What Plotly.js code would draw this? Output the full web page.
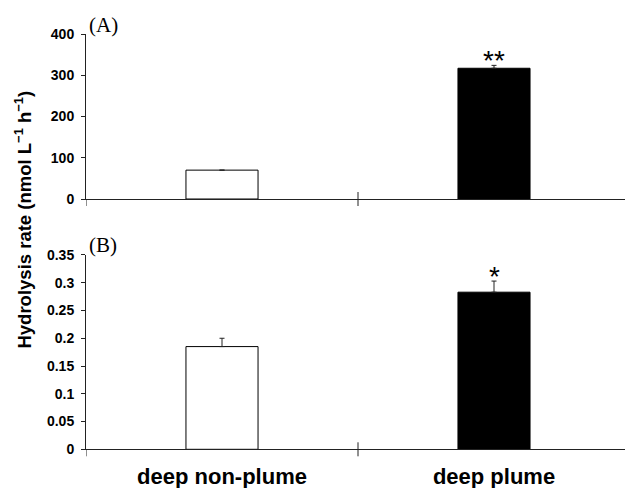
<!DOCTYPE html>
<html><head><meta charset="utf-8">
<script src="https://cdn.plot.ly/plotly-3.0.1.min.js"></script>
<style>html,body{margin:0;padding:0;background:#fff}#c{width:625px;height:488px}</style>
</head><body><div id="c"></div>
<script>
const categories = ['deep non-plume', 'deep plume'];
const rateA = [70, 317];
const errA = [0, 7];
const rateB = [0.185, 0.283];
const errB = [0.015, 0.02];
const sigA = ['', '**'];
const sigB = ['', '*'];
const panelLabels = ['(A)', '(B)'];

const AR = 'Arial, "Liberation Sans", sans-serif';
const TR = '"Times New Roman", "Liberation Serif", serif';
const fills = ['#ffffff', '#000000'];
const barW = 0.265;
const domA = [0.5922, 0.9303];
const domB = [0.0793, 0.4775];

function barTrace(vals, errs, xa, ya) {
  return {
    type: 'bar', x: categories, y: vals, xaxis: xa, yaxis: ya,
    width: categories.map(() => barW),
    marker: {color: fills, line: {color: '#000', width: 1}},
    error_y: {type: 'data', symmetric: false, array: errs, arrayminus: errs.map(() => 0),
              color: '#222', thickness: 1, width: 2.5},
    hoverinfo: 'skip', showlegend: false
  };
}

const xr = [-0.5, 1.4816];
const axLine = {showline: true, linecolor: '#222', linewidth: 1, zeroline: false, showgrid: false};
const yTick = {ticks: 'outside', ticklen: 4, tickcolor: '#222', tickwidth: 1,
  tickfont: {family: AR, size: 14, color: '#000', weight: 'bold'}, ticklabelstandoff: 4};

const annotations = [];
sigA.forEach((s, i) => { if (s) annotations.push({xref: 'x', yref: 'y', x: categories[i], y: rateA[i] + errA[i],
  text: s, showarrow: false, yanchor: 'bottom', yshift: -13, font: {family: AR, size: 28, color: '#000'}}); });
sigB.forEach((s, i) => { if (s) annotations.push({xref: 'x2', yref: 'y2', x: categories[i], y: rateB[i] + errB[i],
  text: s, showarrow: false, yanchor: 'bottom', yshift: -13, font: {family: AR, size: 28, color: '#000'}}); });
annotations.push({xref: 'paper', yref: 'paper', x: 0.002, y: 0.978, xanchor: 'left', yanchor: 'top',
  text: panelLabels[0], showarrow: false, font: {family: TR, size: 21, color: '#000'}});
annotations.push({xref: 'paper', yref: 'paper', x: 0.002, y: 0.527, xanchor: 'left', yanchor: 'top',
  text: panelLabels[1], showarrow: false, font: {family: TR, size: 21, color: '#000'}});
annotations.push({xref: 'paper', yref: 'paper', x: -0.117, y: 0.55, xanchor: 'center', yanchor: 'middle',
  textangle: -90, showarrow: false,
  text: '<b>Hydrolysis rate (nmol L<sup>−1</sup> h<sup>−1</sup>)</b>',
  font: {family: AR, size: 18.5, color: '#000'}});

// category boundary ticks crossing the category axis
const shapes = [];
[['x', domA], ['x2', domB]].forEach(([xa, dom]) => {
  for (let i = 0; i <= categories.length; i++) {
    const bx = i - 0.5;
    shapes.push({type: 'line', xref: xa, yref: 'paper', ysizemode: 'pixel', yanchor: dom[0],
      x0: bx, x1: bx, y0: -7, y1: i === 0 ? 0 : 7,
      line: {color: '#222', width: 1}});
  }
});

const layout = {
  width: 625, height: 488,
  margin: {l: 86, r: 0, t: 0, b: 0, pad: 0},
  paper_bgcolor: '#fff', plot_bgcolor: '#fff',
  xaxis: Object.assign({}, axLine, {anchor: 'y', range: xr, type: 'category', showticklabels: false, ticks: ''}),
  yaxis: Object.assign({}, axLine, yTick, {domain: domA, range: [0, 400], dtick: 100, tick0: 0}),
  xaxis2: Object.assign({}, axLine, {anchor: 'y2', range: xr, type: 'category', ticks: '',
    tickfont: {family: AR, size: 22, color: '#000', weight: 'bold'}, ticklabelstandoff: 7}),
  yaxis2: Object.assign({}, axLine, yTick, {domain: domB, range: [0, 0.35], dtick: 0.05, tick0: 0}),
  annotations: annotations, shapes: shapes, bargap: 0
};

Plotly.newPlot('c', [barTrace(rateA, errA, 'x', 'y'), barTrace(rateB, errB, 'x2', 'y2')], layout,
  {staticPlot: true, displayModeBar: false});
</script></body></html>
